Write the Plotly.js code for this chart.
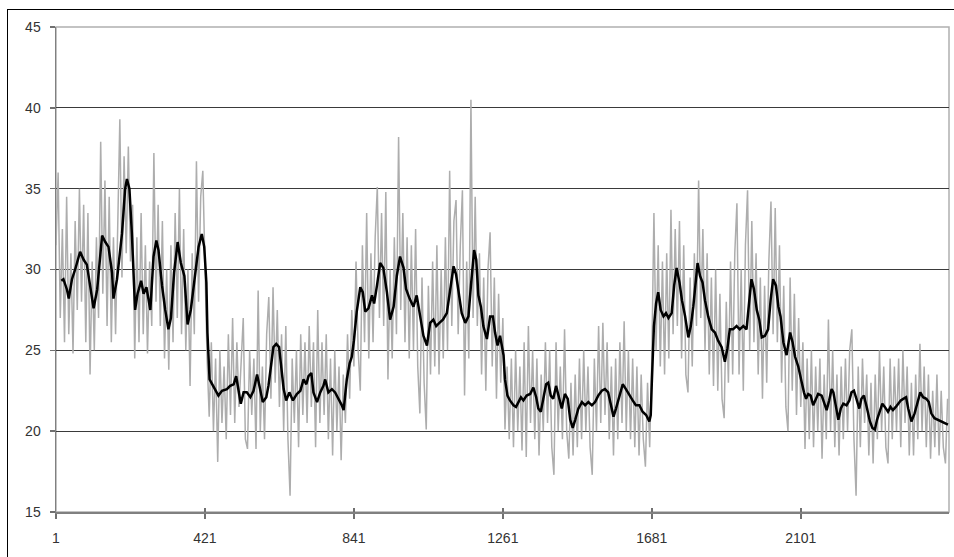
<!DOCTYPE html>
<html>
<head>
<meta charset="utf-8">
<script src="https://cdn.plot.ly/plotly-3.0.1.min.js"></script>
<style>
  html, body { margin: 0; padding: 0; background: #fff; }
  #chart { width: 954px; height: 557px; position: relative; }
  #frame { position: absolute; left: 7px; top: 9px; width: 960px; height: 560px;
           border-left: 1.5px solid #000; border-top: 1.5px solid #000; pointer-events: none; }
</style>
</head>
<body>
<div id="chart"></div>
<div id="frame"></div>
<script>
// tick labels of the category axis
const tickValues = [1, 421, 841, 1261, 1681, 2101];
const tickLabels = ["1", "421", "841", "1261", "1681", "2101"];

// raw series (gray), sampled every 6 observations starting at observation 1
const rawStart = 1;
const rawStep = 6;
const rawValues = [
  31.5,36.0,27.0,32.5,25.5,34.5,26.0,31.0,24.8,33.0,
  27.5,35.0,28.0,34.0,25.5,33.5,23.5,30.5,25.0,32.0,
  27.0,37.9,28.5,35.5,26.5,34.5,25.5,32.0,26.0,33.0,
  39.3,29.5,37.0,31.0,37.6,30.5,34.0,24.5,32.0,25.5,
  33.5,26.0,31.5,24.8,30.5,26.5,37.2,28.0,34.0,26.5,
  33.0,24.5,30.0,23.8,31.5,25.5,33.5,27.0,35.0,26.0,
  32.5,25.0,30.0,22.8,31.0,26.0,36.7,28.0,34.5,36.1,
  30.0,24.5,20.9,25.5,20.0,24.5,18.1,25.0,20.5,24.0,
  19.5,26.0,21.0,27.0,20.5,25.5,21.5,24.5,27.0,19.5,
  18.9,25.0,21.0,24.5,18.9,28.7,20.0,24.0,19.5,26.0,
  28.3,22.0,28.9,23.0,27.5,21.5,26.0,20.0,26.5,19.5,
  16.0,24.5,20.5,25.0,19.0,26.0,21.0,25.5,20.5,26.5,
  21.5,25.5,19.0,27.5,20.5,25.5,21.0,26.0,19.5,24.5,
  18.5,25.0,20.0,24.0,18.2,23.5,20.5,26.0,22.0,27.5,
  24.0,30.5,25.0,22.5,31.5,25.5,33.5,24.5,31.0,25.5,
  32.0,35.1,27.0,33.5,26.5,34.8,23.2,30.0,24.5,32.0,
  26.0,38.2,27.5,33.5,25.5,32.0,24.5,31.5,25.0,32.5,
  24.0,21.1,29.5,23.0,20.1,29.0,23.5,30.5,24.0,31.5,
  23.5,30.0,24.5,32.0,25.0,36.1,26.5,33.0,34.3,26.0,
  31.5,34.9,22.2,30.5,24.5,40.5,27.0,34.5,26.5,31.0,
  23.5,29.5,22.5,30.0,32.3,24.0,29.5,22.0,28.5,23.0,
  27.0,20.1,24.0,19.5,24.5,19.0,25.0,20.0,24.0,18.8,
  25.5,18.4,26.5,20.5,25.0,19.5,24.5,18.5,23.5,20.0,
  25.5,20.5,25.0,19.0,17.3,25.5,20.0,24.0,19.5,26.3,
  20.0,18.3,23.0,18.5,23.5,19.0,24.5,19.5,25.0,20.0,
  24.0,19.0,17.3,24.5,20.0,26.5,20.5,26.7,21.0,25.5,
  19.5,24.0,18.5,24.5,19.5,25.5,20.5,26.8,20.0,25.0,
  19.5,24.5,19.0,24.0,18.5,23.5,19.5,17.8,23.0,19.0,
  24.5,33.5,25.0,31.5,24.0,30.5,23.5,31.0,24.5,33.7,
  26.0,32.5,26.5,33.0,24.5,31.5,23.5,22.4,29.5,24.0,
  31.0,26.5,35.5,27.0,32.5,25.0,31.0,23.5,29.5,22.8,
  30.0,22.5,28.5,22.0,20.8,28.0,23.0,30.5,23.5,31.0,
  34.1,23.5,30.0,22.5,31.5,34.9,25.0,33.0,25.5,31.0,
  23.5,29.5,22.0,29.0,23.0,30.5,34.2,26.0,33.8,25.5,
  31.5,23.0,29.0,21.5,20.0,29.5,22.5,28.5,21.0,27.0,
  21.5,25.5,18.9,24.5,19.5,25.0,19.0,24.0,20.0,24.5,
  18.3,23.5,19.5,26.9,20.0,25.0,19.0,23.5,18.5,24.0,
  19.5,24.5,20.0,25.0,26.3,19.5,16.0,24.0,19.0,24.5,
  20.5,23.5,18.5,23.0,18.0,23.5,19.5,25.0,20.0,24.0,
  19.0,18.0,24.5,19.5,24.0,20.0,24.5,19.0,25.0,20.5,
  24.0,18.5,23.0,18.5,23.5,19.5,25.4,20.0,24.0,19.0,
  23.5,18.3,22.5,19.0,23.5,18.5,22.5,19.0,18.0,22.0
];

// smoothed series (black)
const smoothX = [
  16,22,32,37,46,55,69,79,88,98,107,117,131,140,149,159,163,173,187,196,201,208,215,224,231,241,248,256,262,267,
  276,284,290,300,309,318,325,334,344,353,363,372,381,391,403,412,419,425,428,434,441,450,459,469,483,492,502,509,516,522,
  530,539,549,558,568,575,584,594,600,607,614,622,630,635,643,650,659,669,680,690,699,707,713,721,727,737,746,755,760,769,
  779,788,798,807,812,821,829,835,841,849,859,866,873,882,892,898,906,915,924,934,943,953,962,971,981,988,998,1009,1018,1028,
  1037,1047,1056,1065,1073,1082,1092,1103,1112,1122,1129,1136,1145,1155,1164,1171,1180,1186,1192,1199,1206,1216,1225,1233,1239,1246,1253,1263,1267,1274,
  1281,1291,1298,1305,1312,1319,1328,1338,1347,1355,1361,1368,1375,1383,1389,1396,1403,1411,1418,1427,1436,1444,1451,1458,1465,1474,1484,1493,1502,1512,
  1521,1530,1540,1549,1558,1565,1573,1580,1589,1599,1608,1618,1627,1636,1646,1655,1665,1674,1678,1681,1684,1687,1693,1699,1706,1714,1721,1728,1737,1744,
  1751,1759,1766,1775,1784,1791,1798,1806,1810,1817,1824,1831,1840,1850,1859,1868,1878,1887,1894,1901,1910,1920,1929,1939,1948,1956,1962,1969,1977,1984,
  1991,2000,2009,2016,2023,2031,2038,2044,2052,2061,2071,2078,2085,2094,2101,2104,2110,2116,2122,2129,2136,2144,2150,2160,2166,2174,2181,2188,2193,2200,
  2207,2214,2221,2230,2238,2244,2251,2258,2266,2272,2279,2287,2296,2303,2310,2316,2324,2331,2338,2347,2354,2361,2369,2376,2383,2390,2398,2404,2413,2422,
  2432,2438,2446,2455,2462,2469,2478,2488,2497,2507,2516
];
const smoothY = [
  29.3,29.4,28.75,28.2,29.4,30.0,31.1,30.6,30.3,29.0,27.6,28.75,32.1,31.7,31.4,29.8,28.2,29.4,32.2,35.0,35.6,35.0,32.2,27.5,28.5,29.3,28.5,28.9,28.2,27.5,
  30.8,31.8,31.2,29.0,27.5,26.3,27.0,29.8,31.7,30.4,29.6,26.6,27.5,29.3,31.4,32.2,31.4,29.2,26.1,23.2,22.9,22.6,22.2,22.5,22.6,22.8,22.9,23.4,22.6,21.7,
  22.4,22.4,22.1,22.5,23.5,22.8,21.8,22.1,22.8,24.0,25.2,25.4,25.2,24.2,22.6,21.9,22.4,21.9,22.3,22.5,23.2,22.9,23.4,23.6,22.4,21.8,22.4,22.8,23.2,22.4,
  22.6,22.4,22.0,21.6,21.3,23.2,24.2,24.6,25.6,27.4,28.9,28.6,27.4,27.6,28.4,27.9,29.0,30.4,30.1,28.6,26.9,27.7,29.6,30.8,30.1,28.8,28.2,27.7,28.4,27.1,
  25.9,25.3,26.7,26.9,26.5,26.7,26.9,27.3,28.6,30.2,29.7,28.6,27.3,26.7,27.1,29.0,31.2,30.6,28.4,27.7,26.5,25.7,27.1,27.1,26.1,25.3,25.9,24.7,23.2,22.2,
  21.9,21.6,21.5,21.8,22.1,21.9,22.2,22.3,22.7,22.1,21.4,21.2,22.0,22.9,23.0,22.2,22.0,22.8,22.2,21.4,22.3,22.0,20.7,20.2,20.7,21.4,21.8,21.6,21.8,21.6,
  21.8,22.2,22.5,22.6,22.4,21.6,20.9,21.4,22.2,22.9,22.6,22.2,21.9,21.6,21.6,21.2,21.0,20.6,21.0,23.0,24.5,26.5,27.9,28.6,27.5,27.1,27.3,27.0,27.3,29.0,
  30.1,29.2,28.1,27.1,25.8,26.5,27.7,29.4,30.4,29.6,29.2,28.1,27.1,26.3,26.1,25.6,25.2,24.3,25.1,26.3,26.3,26.5,26.3,26.5,26.3,28.1,29.4,28.8,27.5,26.9,
  25.8,25.9,26.3,28.1,29.4,29.0,27.7,27.1,25.5,24.7,26.1,25.5,24.6,24.0,23.4,23.0,22.4,22.0,22.3,22.2,21.6,22.0,22.3,22.2,21.8,21.3,21.9,22.6,22.4,21.6,
  20.7,21.4,21.7,21.6,21.9,22.4,22.5,22.0,21.4,22.0,22.2,21.5,20.6,20.2,20.1,20.7,21.3,21.7,21.5,21.2,21.5,21.3,21.5,21.7,21.9,22.0,22.1,21.4,20.6,21.1,
  21.9,22.4,22.1,22.0,21.8,21.1,20.8,20.7,20.6,20.5,20.4
];

const traces = [
  {
    type: 'scatter', mode: 'lines',
    x0: rawStart, dx: rawStep, y: rawValues,
    line: { color: '#adadad', width: 1.5 },
    hoverinfo: 'skip', showlegend: false
  },
  {
    type: 'scatter', mode: 'lines',
    x: smoothX, y: smoothY,
    line: { color: '#000000', width: 2.5 },
    hoverinfo: 'skip', showlegend: false
  },
  { type: 'scatter', mode: 'lines', x: [], y: [], xaxis: 'x2', yaxis: 'y', showlegend: false, hoverinfo: 'skip' }
];

const axisFont = { family: 'Liberation Sans, Arial, sans-serif', size: 14, color: '#333333' };

const layout = {
  width: 954, height: 557,
  margin: { l: 56, r: 5, t: 27, b: 45, pad: 0 },
  paper_bgcolor: '#ffffff', plot_bgcolor: '#ffffff',
  showlegend: false,
  font: axisFont,
  xaxis: {
    range: [1, 2519], tickmode: 'array', tickvals: tickValues, ticktext: tickLabels,
    ticks: 'outside', ticklen: 5, tickwidth: 1.5, tickcolor: '#707070',
    showline: true, linecolor: '#808080', linewidth: 1.5,
    showgrid: false, zeroline: false, tickfont: axisFont, ticklabelstandoff: 8
  },
  xaxis2: {
    overlaying: 'x', matches: 'x', anchor: 'y', side: 'bottom',
    range: [1, 2519], tickmode: 'array', tickvals: tickValues,
    ticks: 'inside', ticklen: 4, tickwidth: 1.5, tickcolor: '#707070',
    showticklabels: false, showline: false, showgrid: false, zeroline: false
  },
  yaxis: {
    range: [15, 45], tick0: 15, dtick: 5,
    ticks: 'outside', ticklen: 5, tickwidth: 1.5, tickcolor: '#707070',
    showline: true, linecolor: '#808080', linewidth: 1.5,
    showgrid: true, gridcolor: '#3a3a3a', gridwidth: 1,
    zeroline: false, tickfont: axisFont, ticklabelstandoff: 6
  },
  shapes: [
    { type: 'rect', xref: 'paper', yref: 'paper', x0: 0, x1: 1, y0: 0, y1: 1,
      line: { color: '#b0b0b0', width: 1.5 }, layer: 'below' }
  ]
};

Plotly.newPlot('chart', traces, layout, { staticPlot: true, displayModeBar: false });
</script>
</body>
</html>
